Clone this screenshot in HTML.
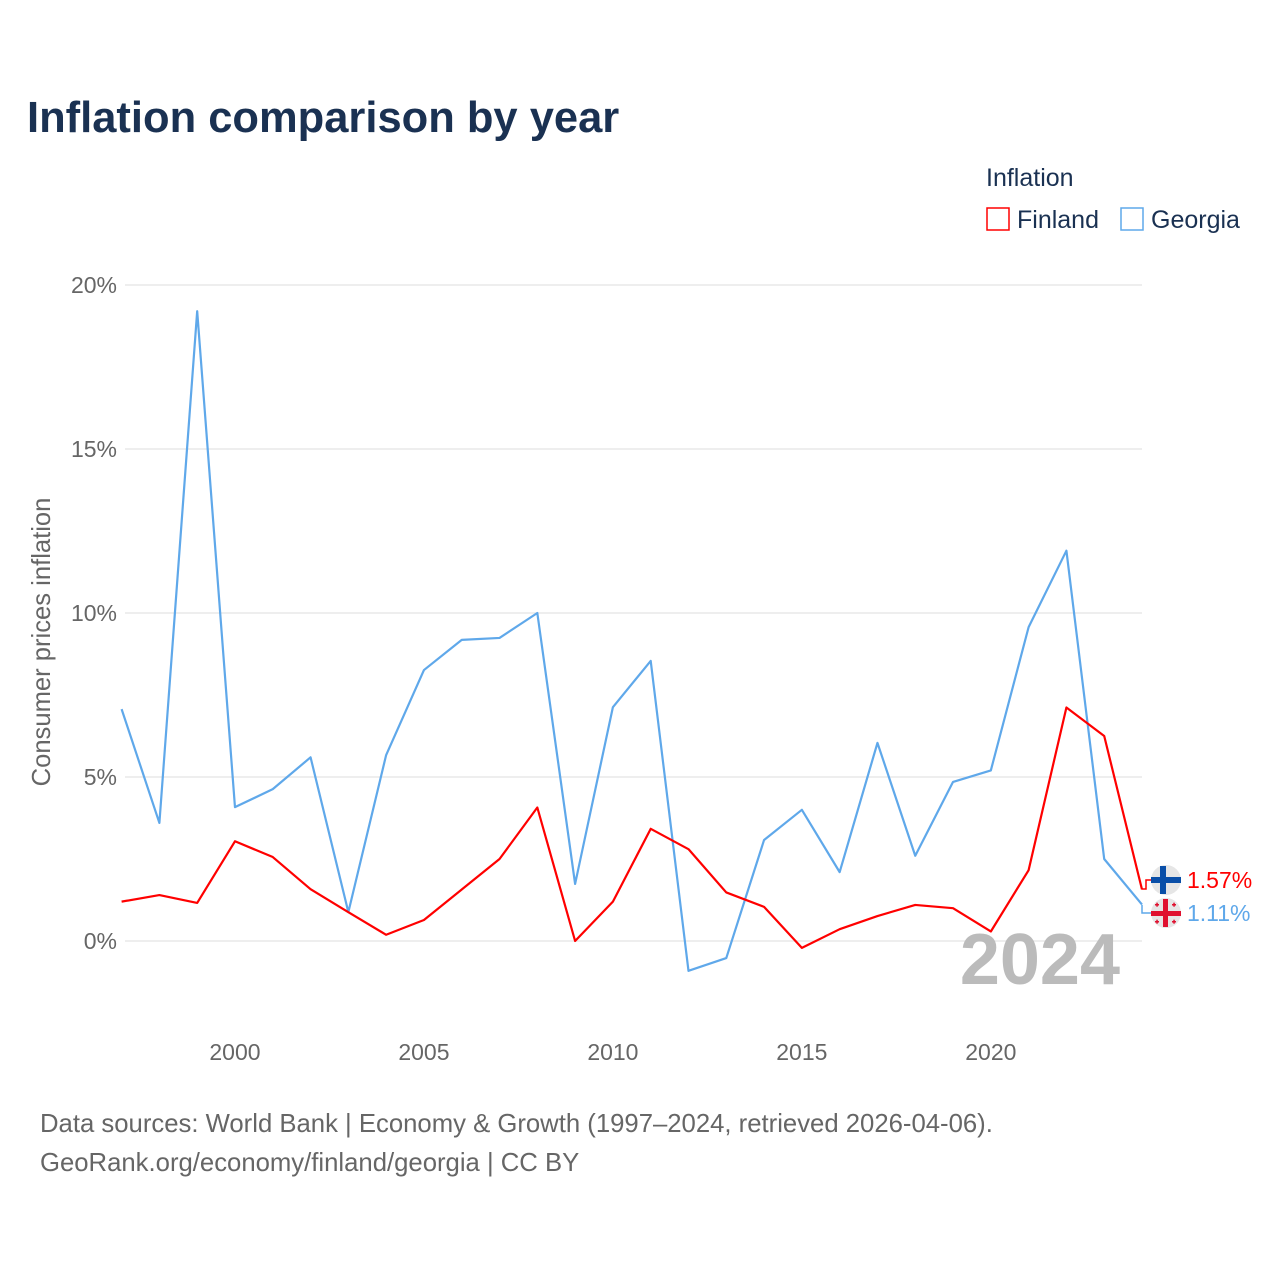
<!DOCTYPE html>
<html><head><meta charset="utf-8"><style>
body{margin:0;background:#fff;font-family:"Liberation Sans",sans-serif}
</style></head><body>
<svg width="1280" height="1280" xmlns="http://www.w3.org/2000/svg" font-family="Liberation Sans, sans-serif">
<text x="27" y="132" font-size="43.5" font-weight="bold" fill="#1a3152">Inflation comparison by year</text>
<text x="986" y="186" font-size="25" fill="#1a3152">Inflation</text>
<g><rect x="987" y="208" width="22" height="22" fill="none" stroke="#ff0000" stroke-width="1.5"/><text x="1017" y="228" font-size="25" fill="#1a3152">Finland</text></g>
<g><rect x="1121" y="208" width="22" height="22" fill="none" stroke="#5fa8ea" stroke-width="1.5"/><text x="1151" y="228" font-size="25" fill="#1a3152">Georgia</text></g>
<g id="grid"></g><g id="xt"></g>
<text transform="translate(50,642) rotate(-90)" text-anchor="middle" font-size="25.6" fill="#666">Consumer prices inflation</text>
<text x="1120" y="984" text-anchor="end" font-size="72" font-weight="bold" fill="#bbb">2024</text>
<g id="lines"></g>
<g>
<polyline points="1142,889 1146,889 1146,880 1152,880" fill="none" stroke="#ff0000" stroke-width="1.5"/>
<circle cx="1166" cy="880" r="15" fill="#e6e6e6"/><rect x="1151" y="877" width="30" height="6" fill="#0a4fa8"/><rect x="1160" y="866" width="6" height="28" fill="#0a4fa8"/>
<text x="1187" y="888" font-size="23" fill="#ff0000">1.57%</text></g>
<g>
<polyline points="1142,905 1142,913 1152,913" fill="none" stroke="#5fa8ea" stroke-width="1.5"/>
<circle cx="1166" cy="913" r="15" fill="#e6e6e6"/><rect x="1151" y="911" width="30" height="5" fill="#e0102f"/><rect x="1163" y="899" width="5" height="28" fill="#e0102f"/>
<g fill="#e0102f"><rect x="1155" y="904" width="4" height="1.5"/><rect x="1156.3" y="902.7" width="1.5" height="4"/><rect x="1172" y="904" width="4" height="1.5"/><rect x="1173.3" y="902.7" width="1.5" height="4"/><rect x="1155" y="921" width="4" height="1.5"/><rect x="1156.3" y="919.7" width="1.5" height="4"/><rect x="1172" y="921" width="4" height="1.5"/><rect x="1173.3" y="919.7" width="1.5" height="4"/></g>
<text x="1187" y="921" font-size="23" fill="#5fa8ea">1.11%</text></g>
<text x="40" y="1132" font-size="25.7" fill="#666">Data sources: World Bank | Economy &amp; Growth (1997–2024, retrieved 2026-04-06).</text>
<text x="40" y="1171" font-size="25.7" fill="#666">GeoRank.org/economy/finland/georgia | CC BY</text>
</svg>
<script>
const years=[1997,1998,1999,2000,2001,2002,2003,2004,2005,2006,2007,2008,2009,2010,2011,2012,2013,2014,2015,2016,2017,2018,2019,2020,2021,2022,2023,2024];
const georgia=[7.07,3.6,19.2,4.08,4.63,5.6,0.88,5.67,8.26,9.18,9.24,10.0,1.74,7.13,8.54,-0.91,-0.52,3.08,4.0,2.1,6.04,2.6,4.85,5.2,9.57,11.9,2.5,1.11];
const finland=[1.2,1.4,1.16,3.04,2.56,1.58,0.88,0.19,0.64,1.57,2.5,4.07,0,1.2,3.42,2.8,1.48,1.04,-0.21,0.36,0.76,1.1,1.0,0.29,2.16,7.12,6.25,1.57];
const yTicks=[0,5,10,15,20];
const xTicks=[2000,2005,2010,2015,2020];
const X=y=>121.6+(y-1997)*(1142-121.6)/27;
const Y=v=>941-v*32.8;
const NS="http://www.w3.org/2000/svg";
function mk(t,a,p){const e=document.createElementNS(NS,t);for(const k in a)e.setAttribute(k,a[k]);p.appendChild(e);return e;}
const g=document.getElementById('grid');
yTicks.forEach(v=>{
 const l=mk('line',{x1:125,x2:1142,y1:Y(v),y2:Y(v),stroke:'#e8e8e8','stroke-width':1.5},g);
 
 
 const t=mk('text',{x:117,y:Y(v)+8,'text-anchor':'end','font-size':23,fill:'#666'},g);t.textContent=v+'%';
 
 
});
const xt=document.getElementById('xt');
xTicks.forEach(v=>{
 const t=mk('text',{x:X(v),y:1060,'text-anchor':'middle','font-size':23,fill:'#666'},xt);t.textContent=v;
 
 
});
const L=document.getElementById('lines');
[[georgia,'#5fa8ea','georgia-line'],[finland,'#ff0000','finland-line']].forEach(([d,c,n])=>{
 const p=mk('polyline',{points:d.map((v,i)=>X(years[i])+','+Y(v)).join(' '),fill:'none',stroke:c,'stroke-width':2.2,'stroke-linejoin':'round'},L);
 
 
});
</script>
</body></html>
